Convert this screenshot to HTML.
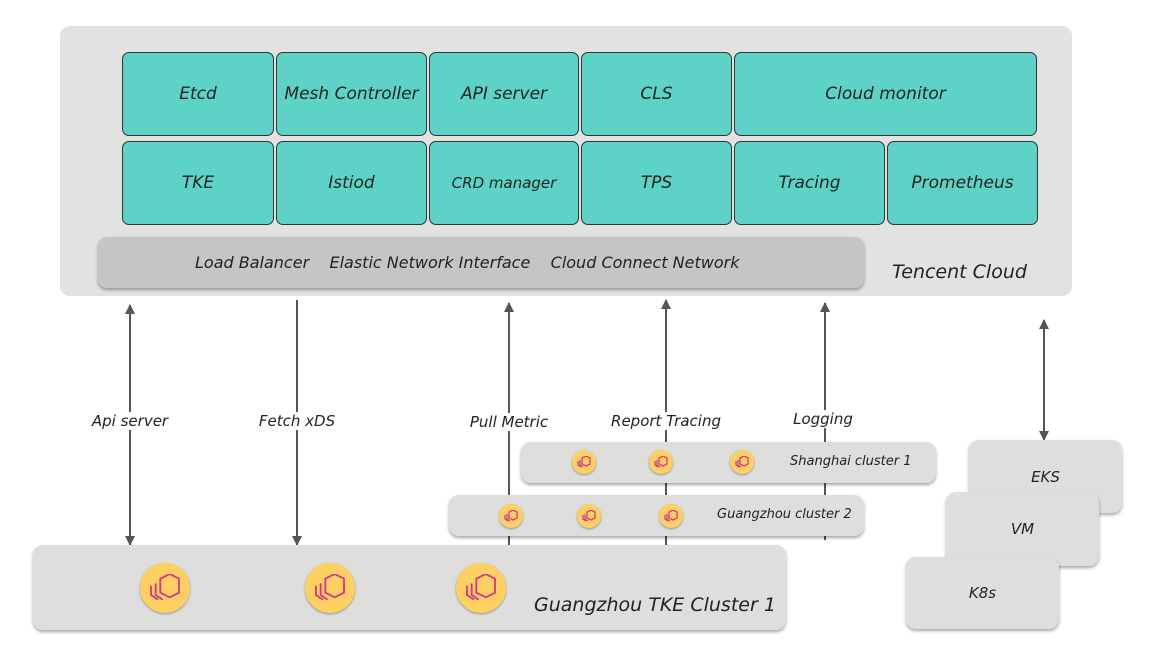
<!DOCTYPE html>
<html><head><meta charset="utf-8"><style>
body{margin:0;width:1154px;height:663px;background:#fff;position:relative;overflow:hidden;font-family:"DejaVu Sans","Liberation Sans",sans-serif;font-style:italic;color:#222}
.a{position:absolute;box-sizing:border-box}
.t{background:#5cd3c6;border:1px solid #333;border-radius:7px;display:flex;align-items:center;justify-content:center;font-size:17px;color:#222}
.g{background:#dededd;border-radius:10px;box-shadow:0 2px 3px rgba(0,0,0,.35)}
.lbl{position:absolute;font-size:15px;background:#fff;padding:0 2px;transform:translateX(-50%)}
.ic{position:absolute;border-radius:50%;background:#fdd061;box-shadow:0 1px 2px rgba(0,0,0,.35);display:flex;align-items:center;justify-content:center}
</style></head><body>
<div class="a g" style="left:60px;top:26px;width:1012px;height:270px;box-shadow:none;background:#e2e2e1"></div>
<div class="a t" style="left:122px;top:52px;width:152px;height:84px">Etcd</div>
<div class="a t" style="left:276px;top:52px;width:151px;height:84px">Mesh Controller</div>
<div class="a t" style="left:429px;top:52px;width:150px;height:84px">API server</div>
<div class="a t" style="left:581px;top:52px;width:151px;height:84px">CLS</div>
<div class="a t" style="left:734px;top:52px;width:303px;height:84px">Cloud monitor</div>
<div class="a t" style="left:122px;top:141px;width:152px;height:84px">TKE</div>
<div class="a t" style="left:276px;top:141px;width:151px;height:84px">Istiod</div>
<div class="a t" style="left:429px;top:141px;width:150px;height:84px;font-size:15px">CRD manager</div>
<div class="a t" style="left:581px;top:141px;width:151px;height:84px">TPS</div>
<div class="a t" style="left:734px;top:141px;width:151px;height:84px">Tracing</div>
<div class="a t" style="left:887px;top:141px;width:151px;height:84px">Prometheus</div>
<div class="a" style="left:98px;top:237px;width:766px;height:51px;background:#c5c5c4;border-radius:9px;box-shadow:0 2px 3px rgba(0,0,0,.35);font-size:16px;line-height:51px;padding-left:97px">Load Balancer&nbsp;&nbsp;&nbsp;&nbsp;Elastic Network Interface&nbsp;&nbsp;&nbsp;&nbsp;Cloud Connect Network</div>
<div class="a" style="left:892px;top:261px;font-size:19px">Tencent Cloud</div>
<svg class="a" style="left:0;top:0" width="1154" height="663">
<defs><marker id="m" markerWidth="10" markerHeight="10" refX="9" refY="5" orient="auto" markerUnits="userSpaceOnUse"><path d="M0,0 L10,5 L0,10z" fill="#555"/></marker></defs>
<g stroke="#555" stroke-width="2" fill="none">
<line x1="130" y1="540" x2="130" y2="305" marker-end="url(#m)"/>
<line x1="130" y1="400" x2="130" y2="545" marker-end="url(#m)"/>
<line x1="297" y1="300" x2="297" y2="545" marker-end="url(#m)"/>
<line x1="509" y1="545" x2="509" y2="303" marker-end="url(#m)"/>
<line x1="666" y1="545" x2="666" y2="300" marker-end="url(#m)"/>
<line x1="825" y1="540" x2="825" y2="303" marker-end="url(#m)"/>
<line x1="1044" y1="440" x2="1044" y2="320" marker-end="url(#m)"/>
<line x1="1044" y1="330" x2="1044" y2="440" marker-end="url(#m)"/>
</g></svg>
<div class="lbl" style="left:130px;top:412px">Api server</div>
<div class="lbl" style="left:297px;top:412px">Fetch xDS</div>
<div class="lbl" style="left:509px;top:413px">Pull Metric</div>
<div class="lbl" style="left:666px;top:412px">Report Tracing</div>
<div class="lbl" style="left:823px;top:410px">Logging</div>
<div class="a g" style="left:521px;top:442px;width:415px;height:41px"></div>
<div class="a" style="left:790px;top:454px;font-size:13px">Shanghai cluster 1</div>
<div class="a g" style="left:449px;top:495px;width:415px;height:41px"></div>
<div class="a" style="left:717px;top:507px;font-size:13px">Guangzhou cluster 2</div>
<div class="a g" style="left:33px;top:545px;width:753px;height:85px"></div>
<div class="a" style="left:534px;top:594px;font-size:19px">Guangzhou TKE Cluster 1</div>
<div class="a g" style="left:969px;top:440px;width:153px;height:73px;display:flex;align-items:center;justify-content:center;font-size:15px">EKS</div>
<div class="a g" style="left:946px;top:492px;width:153px;height:74px;display:flex;align-items:center;justify-content:center;font-size:15px">VM</div>
<div class="a g" style="left:906px;top:557px;width:153px;height:72px;display:flex;align-items:center;justify-content:center;font-size:15px">K8s</div>
<div class="ic" style="left:572px;top:450px;width:24px;height:24px"><svg width="14" height="12" viewBox="0 0 14 12"><path d="M5 2 L9 0 L13 2 L13 8 L9 10 L5 8Z M3 4 L3 9 L6 11 M1 5 L1 9 L4 11" stroke="#d0398f" stroke-width="1.3" fill="none"/></svg></div>
<div class="ic" style="left:649px;top:450px;width:24px;height:24px"><svg width="14" height="12" viewBox="0 0 14 12"><path d="M5 2 L9 0 L13 2 L13 8 L9 10 L5 8Z M3 4 L3 9 L6 11 M1 5 L1 9 L4 11" stroke="#d0398f" stroke-width="1.3" fill="none"/></svg></div>
<div class="ic" style="left:730px;top:450px;width:24px;height:24px"><svg width="14" height="12" viewBox="0 0 14 12"><path d="M5 2 L9 0 L13 2 L13 8 L9 10 L5 8Z M3 4 L3 9 L6 11 M1 5 L1 9 L4 11" stroke="#d0398f" stroke-width="1.3" fill="none"/></svg></div>
<div class="ic" style="left:499px;top:504px;width:24px;height:24px"><svg width="14" height="12" viewBox="0 0 14 12"><path d="M5 2 L9 0 L13 2 L13 8 L9 10 L5 8Z M3 4 L3 9 L6 11 M1 5 L1 9 L4 11" stroke="#d0398f" stroke-width="1.3" fill="none"/></svg></div>
<div class="ic" style="left:577px;top:504px;width:24px;height:24px"><svg width="14" height="12" viewBox="0 0 14 12"><path d="M5 2 L9 0 L13 2 L13 8 L9 10 L5 8Z M3 4 L3 9 L6 11 M1 5 L1 9 L4 11" stroke="#d0398f" stroke-width="1.3" fill="none"/></svg></div>
<div class="ic" style="left:659px;top:504px;width:24px;height:24px"><svg width="14" height="12" viewBox="0 0 14 12"><path d="M5 2 L9 0 L13 2 L13 8 L9 10 L5 8Z M3 4 L3 9 L6 11 M1 5 L1 9 L4 11" stroke="#d0398f" stroke-width="1.3" fill="none"/></svg></div>
<div class="ic" style="left:140px;top:563px;width:50px;height:50px"><svg width="34" height="28" viewBox="0 0 14 12"><path d="M5 2 L9 0 L13 2 L13 8 L9 10 L5 8Z M3 4 L3 9 L6 11 M1 5 L1 9 L4 11" stroke="#d0398f" stroke-width="0.8" fill="none"/></svg></div>
<div class="ic" style="left:305px;top:563px;width:50px;height:50px"><svg width="34" height="28" viewBox="0 0 14 12"><path d="M5 2 L9 0 L13 2 L13 8 L9 10 L5 8Z M3 4 L3 9 L6 11 M1 5 L1 9 L4 11" stroke="#d0398f" stroke-width="0.8" fill="none"/></svg></div>
<div class="ic" style="left:456px;top:563px;width:50px;height:50px"><svg width="34" height="28" viewBox="0 0 14 12"><path d="M5 2 L9 0 L13 2 L13 8 L9 10 L5 8Z M3 4 L3 9 L6 11 M1 5 L1 9 L4 11" stroke="#d0398f" stroke-width="0.8" fill="none"/></svg></div>
</body></html>
